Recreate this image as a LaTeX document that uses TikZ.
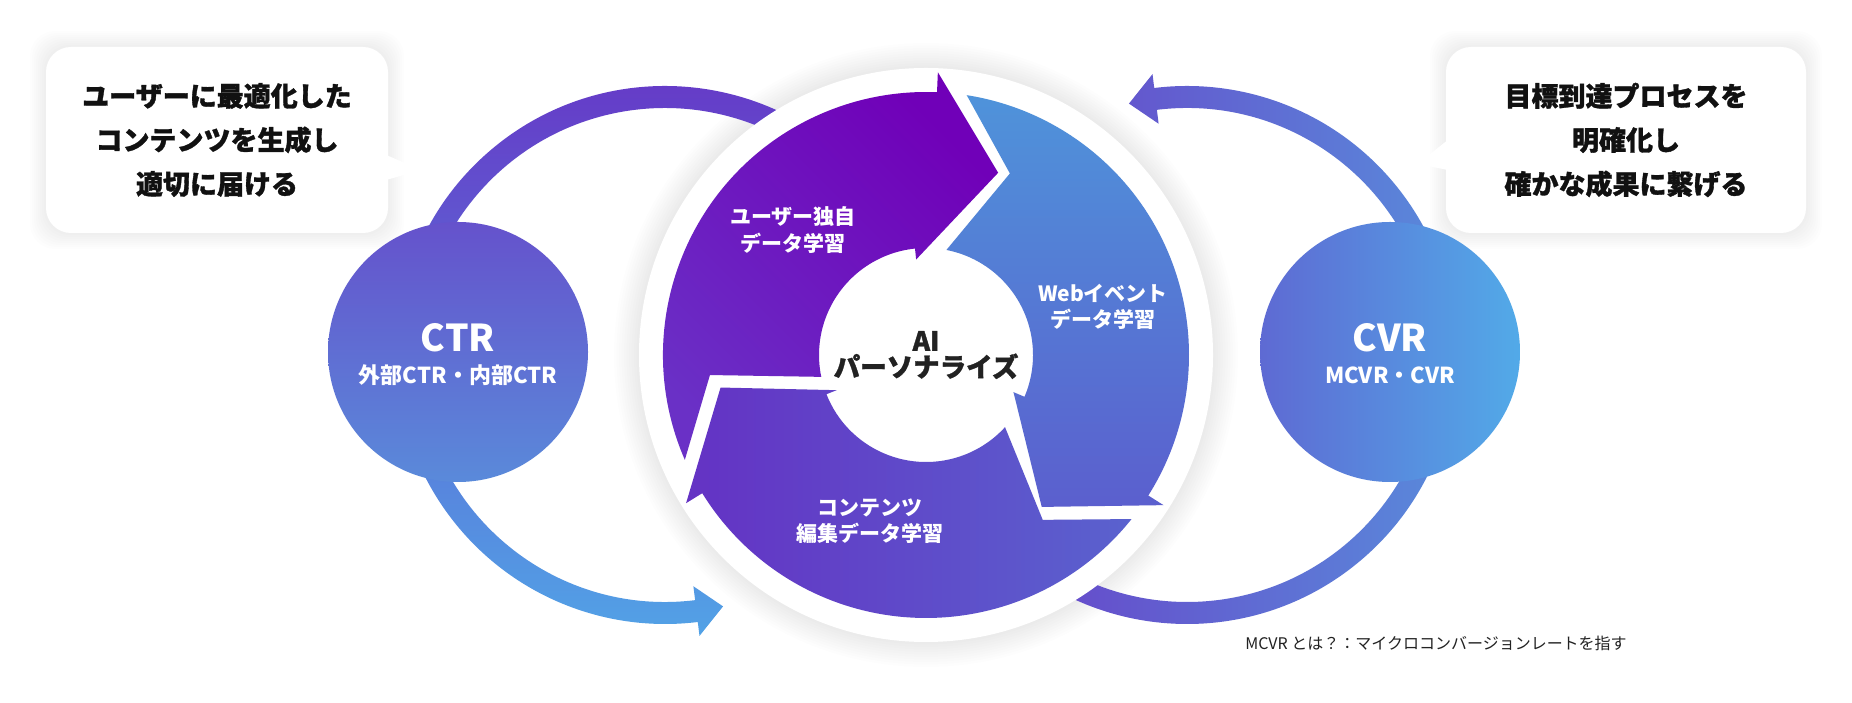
\documentclass[tikz,border=0pt]{standalone}
\usepackage{fontspec}
\setmainfont{Noto Sans CJK JP}
\newfontfamily\heavyfont{Noto Sans CJK JP}[BoldFeatures={FakeBold=1.2}]
\usetikzlibrary{calc,positioning}
\definecolor{inkA}{HTML}{111111}
\definecolor{inkB}{HTML}{222222}
\definecolor{violetA}{HTML}{7000B8}
\definecolor{violetB}{HTML}{6A30C6}
\definecolor{blueA}{HTML}{4F93DA}
\definecolor{blueB}{HTML}{5B5FCE}
\definecolor{indigoA}{HTML}{6432C4}
\definecolor{indigoB}{HTML}{5A62CE}
\definecolor{ctrTop}{HTML}{6552CC}
\definecolor{ctrBottom}{HTML}{5A8ADA}
\definecolor{cvrLeft}{HTML}{5E6AD3}
\definecolor{cvrRight}{HTML}{52AAE8}
\definecolor{arcTop}{HTML}{6636C6}
\definecolor{arcBottom}{HTML}{52A2E6}
\definecolor{arcLeft}{HTML}{6840C8}
\definecolor{arcRight}{HTML}{5890DC}
\begin{document}
\begin{tikzpicture}[x=1pt,y=1pt]
    \tikzstyle{bubbleA}=[rectangle, fill=white, rounded corners=25pt, align=center, text=inkA, font=\heavyfont\bfseries\fontsize{27}{44}\selectfont]
    \tikzstyle{labelA}=[align=center, text=white, font=\bfseries\fontsize{21}{26.5}\selectfont]
    \tikzstyle{kpiA}=[circle, minimum size=260pt, inner sep=0pt]
    \tikzstyle{titleA}=[text=white, font=\bfseries\fontsize{37}{40}\selectfont]
    \tikzstyle{subA}=[text=white, font=\bfseries\fontsize{22}{24}\selectfont]
    \useasboundingbox (0,0) rectangle (1852,703);
    \fill[white] (0,0) rectangle (1852,703);
    \coordinate (m) at (926,348);
    \coordinate (lc) at (665,348);
    \coordinate (rc) at (1187,348);

    % speech bubbles
    \foreach \k in {1,...,8} {
      \fill[black, opacity=0.006, rounded corners=25pt] ({46-2*\k},{470-2*\k}) rectangle ({388+2*\k},{656+2*\k});
      \fill[black, opacity=0.006, rounded corners=25pt] ({1446-2*\k},{470-2*\k}) rectangle ({1806+2*\k},{656+2*\k});
    }
    \node[bubbleA, minimum width=342pt, minimum height=186pt] (ctrbubble) at (217,563) {ユーザーに最適化した\\コンテンツを生成し\\適切に届ける};
    \node[bubbleA, minimum width=360pt, minimum height=186pt] (cvrbubble) at (1626,563) {目標到達プロセスを\\明確化し\\確かな成果に繋げる};
    \fill[white] ($(ctrbubble.east)+(-2,-15)$) -- ($(ctrbubble.east)+(33,-30)$) -- ($(ctrbubble.east)+(-2,-40)$) -- cycle;
    \fill[white] ($(cvrbubble.west)+(2,0)$) -- ($(cvrbubble.west)+(-28,-24)$) -- ($(cvrbubble.west)+(2,-30)$) -- cycle;

    % glow of the main disc
    \foreach \k in {1,...,10}
      \fill[black, opacity=0.007] (m) circle ({287+2.5*\k});

    % outer loops
    \begin{scope}[shift={(lc)}]
      \shade[top color=arcTop, bottom color=arcBottom]
        (40:269) arc[start angle=40, end angle=277, radius=269] -- (277:283) -- (283:258) -- (277:233)
        -- (277:247) arc[start angle=277, end angle=40, radius=247] -- cycle;
    \end{scope}
    \begin{scope}[shift={(rc)}]
      \shade[left color=arcLeft, right color=arcRight]
        (-140:269) arc[start angle=-140, end angle=97, radius=269] -- (97:283) -- (103:258) -- (97:233)
        -- (97:247) arc[start angle=97, end angle=-140, radius=247] -- cycle;
    \end{scope}

    \node[kpiA, top color=ctrTop, bottom color=ctrBottom] (ctr) at (458,351) {};
    \node[kpiA, left color=cvrLeft, right color=cvrRight] (cvr) at (1390,351) {};
    \node[titleA] (ctrtitle) at ($(ctr)+(0,14)$) {CTR};
    \node[subA] (ctrsub) at ($(ctr)+(0,-23)$) {外部CTR・内部CTR};
    \node[titleA] (cvrtitle) at ($(cvr)+(0,14)$) {CVR};
    \node[subA] (cvrsub) at ($(cvr)+(0,-23)$) {MCVR・CVR};

    % main disc with three arrows
    \fill[white] (m) circle (287);
    \begin{scope}[shift={(m)}]
      \shade[top color=violetA, bottom color=violetB, shading angle=-45]
        (87.6:283) -- (68.4:196) -- (95.9:96) -- (95.9:107) arc[start angle=95.9, end angle=191.8, radius=107]
        -- (185.3:217) -- (203.5:263) arc[start angle=203.5, end angle=87.6, radius=263] -- cycle;
      \shade[top color=blueA, bottom color=blueB]
        (-32.3:281) -- (-52.7:191) -- (-23:95) -- (-23:107) arc[start angle=-23, end angle=79, radius=107]
        -- (65.2:200) -- (81.1:263) arc[start angle=81.1, end angle=-32.3, radius=263] -- cycle;
      \shade[left color=indigoA, right color=indigoB]
        (211.7:282) -- (189:208) -- (201.5:96) -- (201.5:107) arc[start angle=201.5, end angle=317.6, radius=107]
        -- (305.3:202) -- (321.4:263) arc[start angle=321.4, end angle=211.7, radius=263] -- cycle;
    \end{scope}

    \node[labelA] (userdata) at (793,473) {ユーザー独自\\データ学習};
    \node[labelA] (webdata) at (1103,396) {Webイベント\\データ学習};
    \node[labelA] (editdata) at (870,182) {コンテンツ\\編集データ学習};
    \node[align=center, text=inkB, font=\heavyfont\bfseries\fontsize{26.5}{26}\selectfont] (ai) at (m) {AI\\パーソナライズ};
    \node[text=inkB, font=\fontsize{16}{18}\selectfont] (note) at (1436,60) {MCVR とは？：マイクロコンバージョンレートを指す};
  \end{tikzpicture}
\end{document}
